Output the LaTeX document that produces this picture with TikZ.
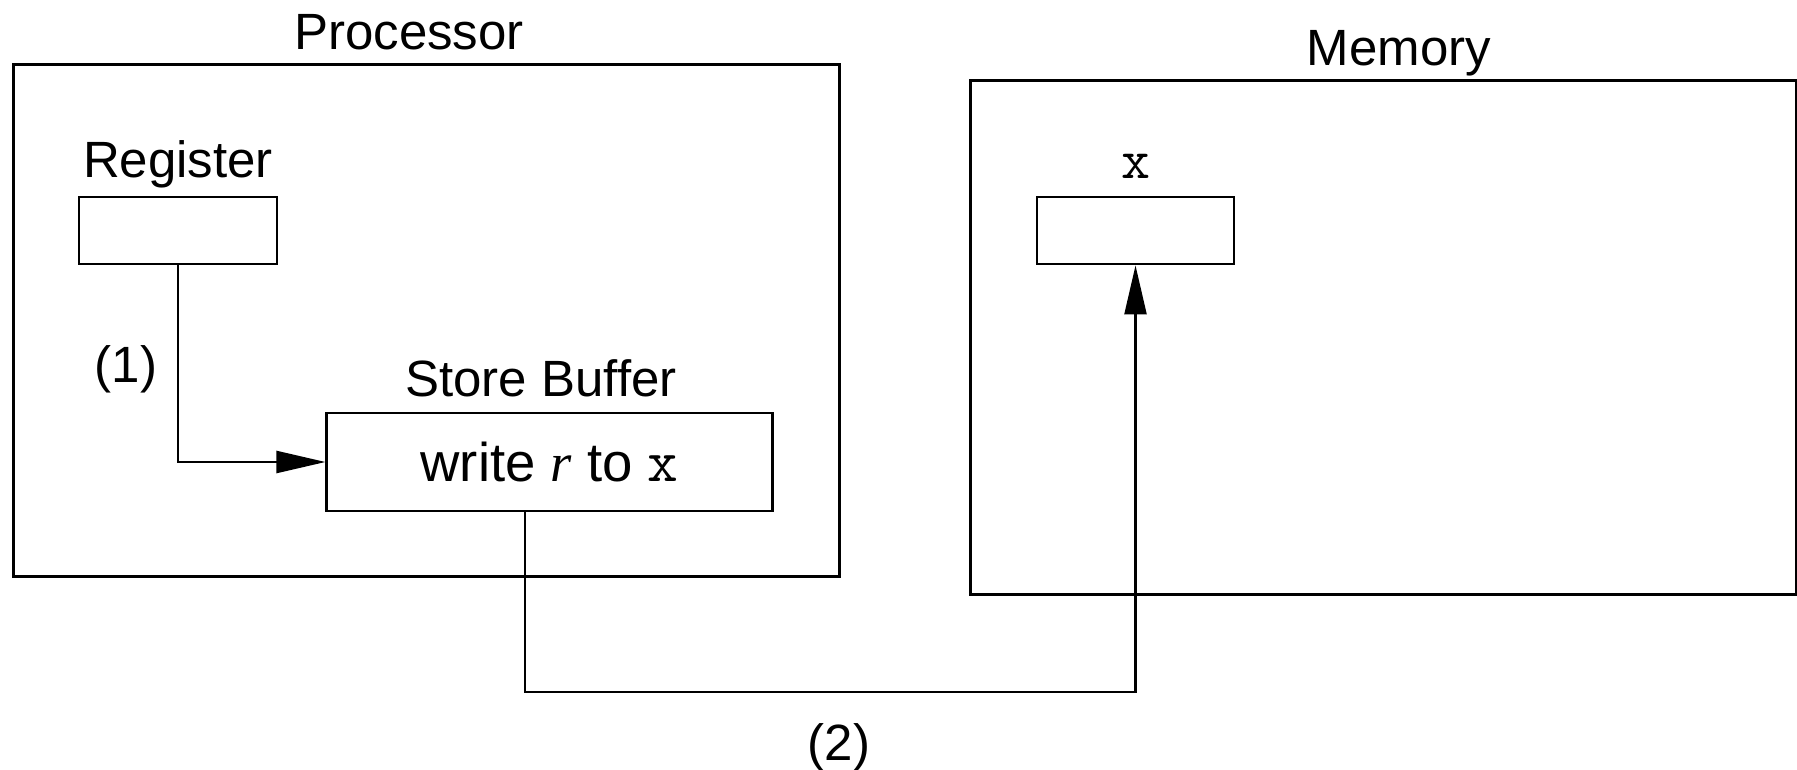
\documentclass[tikz,border=0pt]{standalone}
\usepackage{fontspec}
\setmainfont{Liberation Sans}
\newfontfamily\serifit{Liberation Serif}
\usetikzlibrary{arrows.meta}
\begin{document}
\begin{tikzpicture}[x=0.01cm,y=-0.01cm,
  box/.style={draw,line width=0.8pt,inner sep=0pt},
  lbl/.style={font=\fontsize{14.5}{17}\selectfont,inner sep=0pt},
  arr/.style={line width=0.65pt,-{Triangle[length=4.9mm,width=2.2mm]}}]
\useasboundingbox (0,0) rectangle (1797,770);
\node[box,minimum width=8.25cm,minimum height=5.11cm] (proc) at (426.4,320.5) {};
\node[box,minimum width=1.98cm,minimum height=0.67cm] (reg) at (178,230.5) {};
\node[box,minimum width=4.45cm,minimum height=0.98cm,font=\fontsize{15.5}{18}\selectfont] (sb) at (549.5,462) {write {\serifit\itshape r} to {\ttfamily\fontsize{17}{18}\selectfont x}};
\node[box,minimum width=8.25cm,minimum height=5.13cm] (mem) at (1383.5,337.5) {};
\node[box,minimum width=1.97cm,minimum height=0.67cm] (xb) at (1135.5,230.5) {};
\node[lbl] (tproc) at (409,32) {Processor};
\node[lbl] (treg) at (178,164) {Register};
\node[lbl] (tsb) at (541,378) {Store Buffer};
\node[lbl] (tmem) at (1399,53) {Memory};
\node[lbl] (tx) at (1136,166) {\ttfamily\fontsize{16}{18}\selectfont x};
\node[lbl] (t1) at (126,369) {(1)};
\node[lbl] (t2) at (839,747) {(2)};
\coordinate (b2) at (525,692);
\draw[arr] (reg.south) |- (sb.west);
\draw[arr] (sb.south -| b2) -- (b2) -| (xb.south);
\end{tikzpicture}
\end{document}
